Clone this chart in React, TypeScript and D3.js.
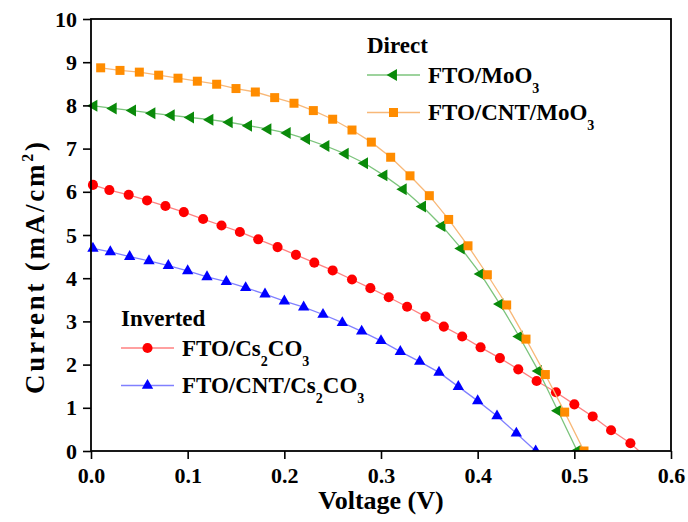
import { useEffect, useRef } from "react";
import * as d3 from "d3";

// FTO/MoO3 (direct, green triangles)
const voltMoO3 = [0.003, 0.023, 0.043, 0.063, 0.083, 0.103, 0.123, 0.143, 0.163, 0.183, 0.203, 0.223, 0.243, 0.263, 0.283, 0.303, 0.323, 0.343, 0.363, 0.383, 0.403, 0.423, 0.443, 0.463, 0.483, 0.503];
const curMoO3 = [7.99, 7.93, 7.88, 7.82, 7.77, 7.72, 7.67, 7.61, 7.53, 7.45, 7.36, 7.22, 7.06, 6.88, 6.66, 6.38, 6.06, 5.66, 5.21, 4.69, 4.10, 3.40, 2.65, 1.85, 0.93, 0.0];

// FTO/CNT/MoO3 (direct, orange squares)
const voltCntMoO3 = [0.01, 0.03, 0.05, 0.07, 0.09, 0.11, 0.13, 0.15, 0.17, 0.19, 0.21, 0.23, 0.25, 0.27, 0.29, 0.31, 0.33, 0.35, 0.37, 0.39, 0.41, 0.43, 0.45, 0.47, 0.49, 0.51];
const curCntMoO3 = [8.87, 8.81, 8.77, 8.70, 8.63, 8.56, 8.49, 8.39, 8.31, 8.18, 8.05, 7.88, 7.68, 7.43, 7.15, 6.80, 6.37, 5.91, 5.36, 4.75, 4.08, 3.38, 2.59, 1.77, 0.90, 0.0];

// FTO/Cs2CO3 (inverted, red circles)
const voltCs = [0.002, 0.019, 0.039, 0.058, 0.077, 0.096, 0.116, 0.135, 0.154, 0.173, 0.193, 0.212, 0.231, 0.25, 0.27, 0.289, 0.308, 0.327, 0.346, 0.365, 0.384, 0.403, 0.423, 0.442, 0.461, 0.481, 0.5, 0.519, 0.538, 0.558, 0.577];
const curCs = [6.16, 6.04, 5.93, 5.80, 5.67, 5.53, 5.37, 5.22, 5.07, 4.90, 4.72, 4.54, 4.36, 4.18, 3.97, 3.77, 3.56, 3.34, 3.11, 2.88, 2.65, 2.40, 2.15, 1.89, 1.62, 1.36, 1.08, 0.80, 0.48, 0.18, -0.2];

// FTO/CNT/Cs2CO3 (inverted, blue triangles)
const voltCntCs = [0.002, 0.02, 0.04, 0.06, 0.08, 0.1, 0.12, 0.14, 0.16, 0.18, 0.2, 0.22, 0.24, 0.26, 0.28, 0.3, 0.32, 0.34, 0.36, 0.38, 0.4, 0.42, 0.44, 0.46];
const curCntCs = [4.69, 4.61, 4.50, 4.40, 4.29, 4.17, 4.03, 3.92, 3.78, 3.63, 3.47, 3.33, 3.16, 2.97, 2.77, 2.55, 2.30, 2.07, 1.82, 1.49, 1.16, 0.81, 0.41, 0.0];

const xTicks = [0, 0.1, 0.2, 0.3, 0.4, 0.5, 0.6];
const yTicks = [0, 1, 2, 3, 4, 5, 6, 7, 8, 9, 10];

const FONT = "'Liberation Serif', 'Times New Roman', serif";

type T_Series = {
  volt: number[];
  cur: number[];
  line: string;
  fill: string;
  shape: d3.SymbolType;
  size: number;
  rotate: number;
};

const series: T_Series[] = [
  { volt: voltCs, cur: curCs, line: "#ff8080", fill: "#ff0000", shape: d3.symbolCircle, size: 80, rotate: 0 },
  { volt: voltCntCs, cur: curCntCs, line: "#8080ff", fill: "#0000ff", shape: d3.symbolTriangle, size: 56, rotate: 0 },
  { volt: voltMoO3, cur: curMoO3, line: "#7cc47c", fill: "#0a8a0a", shape: d3.symbolTriangle, size: 62, rotate: -90 },
  { volt: voltCntMoO3, cur: curCntMoO3, line: "#f8b878", fill: "#ff8c00", shape: d3.symbolSquare, size: 81, rotate: 0 },
];

export default function App() {
  const width = 688;
  const height = 522;
  const margin = { top: 19, right: 17, bottom: 71, left: 91 };
  const svgRef = useRef<SVGSVGElement | null>(null);

  useEffect(() => {
    document.body.style.margin = "0";
    if (!svgRef.current) return;
    const svg = d3.select(svgRef.current);
    svg.selectAll("*").remove();

    const x = d3.scaleLinear().domain([0, 0.6]).range([margin.left, width - margin.right]);
    const y = d3.scaleLinear().domain([0, 10]).range([height - margin.bottom, margin.top]);

    svg.append("rect").attr("width", width).attr("height", height).attr("fill", "#fff");

    // clip at the bottom axis only
    svg
      .append("clipPath")
      .attr("id", "plotClip")
      .append("rect")
      .attr("x", 0)
      .attr("y", 0)
      .attr("width", width)
      .attr("height", y(0));

    const plot = svg.append("g").attr("clip-path", "url(#plotClip)");

    series.forEach((s) => {
      const pts = s.volt.map((v, i) => [v, s.cur[i]] as [number, number]);
      const line = d3
        .line<[number, number]>()
        .x((d) => x(d[0]))
        .y((d) => y(d[1]));
      plot
        .append("path")
        .attr("d", line(pts))
        .attr("fill", "none")
        .attr("stroke", s.line)
        .attr("stroke-width", 1.3);
      plot
        .append("g")
        .selectAll("path")
        .data(pts)
        .enter()
        .append("path")
        .attr("d", d3.symbol().type(s.shape).size(s.size)())
        .attr("transform", (d) => `translate(${x(d[0])},${y(d[1])}) rotate(${s.rotate})`)
        .attr("fill", s.fill);
    });

    // frame
    svg
      .append("rect")
      .attr("x", margin.left)
      .attr("y", margin.top)
      .attr("width", width - margin.left - margin.right)
      .attr("height", height - margin.top - margin.bottom)
      .attr("fill", "none")
      .attr("stroke", "#000")
      .attr("stroke-width", 1.8);

    // x axis
    const xAxis = svg.append("g").attr("transform", `translate(0,${y(0)})`);
    xAxis.call(d3.axisBottom(x).tickValues(d3.range(0, 0.6001, 0.02)).tickSize(4).tickFormat(() => ""));
    xAxis.call(d3.axisBottom(x).tickValues(xTicks).tickSize(8).tickFormat(d3.format(".1f")));
    xAxis.selectAll(".domain").remove();
    xAxis.selectAll("line").attr("stroke", "#000").attr("stroke-width", 1.6);
    xAxis
      .selectAll("text")
      .attr("font-family", FONT)
      .attr("font-weight", "bold")
      .attr("font-size", 22)
      .attr("fill", "#000")
      .attr("dy", "0.95em");

    // y axis
    const yAxis = svg.append("g").attr("transform", `translate(${x(0)},0)`);
    yAxis.call(d3.axisLeft(y).tickValues(d3.range(0, 10.001, 0.25)).tickSize(4).tickFormat(() => ""));
    yAxis.call(d3.axisLeft(y).tickValues(yTicks).tickSize(8).tickFormat(d3.format("d")));
    yAxis.selectAll(".domain").remove();
    yAxis.selectAll("line").attr("stroke", "#000").attr("stroke-width", 1.6);
    yAxis
      .selectAll("text")
      .attr("font-family", FONT)
      .attr("font-weight", "bold")
      .attr("font-size", 22)
      .attr("fill", "#000")
      .attr("x", -14);

    // axis titles
    svg
      .append("text")
      .attr("x", (x(0) + x(0.6)) / 2)
      .attr("y", 509)
      .attr("text-anchor", "middle")
      .attr("font-family", FONT)
      .attr("font-weight", "bold")
      .attr("font-size", 26)
      .text("Voltage (V)");

    const yt = svg
      .append("text")
      .attr("transform", `translate(44,268) rotate(-90)`)
      .attr("text-anchor", "middle")
      .attr("font-family", FONT)
      .attr("font-weight", "bold")
      .attr("font-size", 27)
      .attr("textLength", 252)
      .attr("lengthAdjust", "spacing");
    yt.append("tspan").text("Current (mA/cm");
    yt.append("tspan").attr("font-size", 16).attr("dy", -11).text("2");
    yt.append("tspan").attr("dy", 11).text(")");

    // legends
    const legend = (
      gx: number,
      gy: number,
      title: string,
      items: { s: T_Series; label: [string, string][] }[]
    ) => {
      const g = svg.append("g").attr("font-family", FONT).attr("font-weight", "bold");
      g.append("text").attr("x", gx).attr("y", gy).attr("font-size", 23).text(title);
      items.forEach((it, i) => {
        const ly = gy + 22 + i * 37.5;
        g.append("line")
          .attr("x1", gx)
          .attr("x2", gx + 53)
          .attr("y1", ly)
          .attr("y2", ly)
          .attr("stroke", it.s.line)
          .attr("stroke-width", 1.3);
        g.append("path")
          .attr("d", d3.symbol().type(it.s.shape).size(it.s.size)())
          .attr("transform", `translate(${gx + 26.5},${ly}) rotate(${it.s.rotate})`)
          .attr("fill", it.s.fill);
        const t = g.append("text").attr("x", gx + 61).attr("y", ly + 7.5).attr("font-size", 23);
        let shift = 0;
        it.label.forEach(([main, sub]) => {
          t.append("tspan").attr("dy", -shift).text(main);
          shift = 0;
          if (sub) {
            t.append("tspan").attr("font-size", 14).attr("dy", 10).text(sub);
            shift = 10;
          }
        });
      });
    };

    legend(367, 53, "Direct", [
      { s: series[2], label: [["FTO/MoO", "3"]] },
      { s: series[3], label: [["FTO/CNT/MoO", "3"]] },
    ]);
    legend(121, 326, "Inverted", [
      { s: series[0], label: [["FTO/Cs", "2"], ["CO", "3"]] },
      { s: series[1], label: [["FTO/CNT/Cs", "2"], ["CO", "3"]] },
    ]);
  }, []);

  return <svg ref={svgRef} width={width} height={height} style={{ display: "block" }} />;
}
